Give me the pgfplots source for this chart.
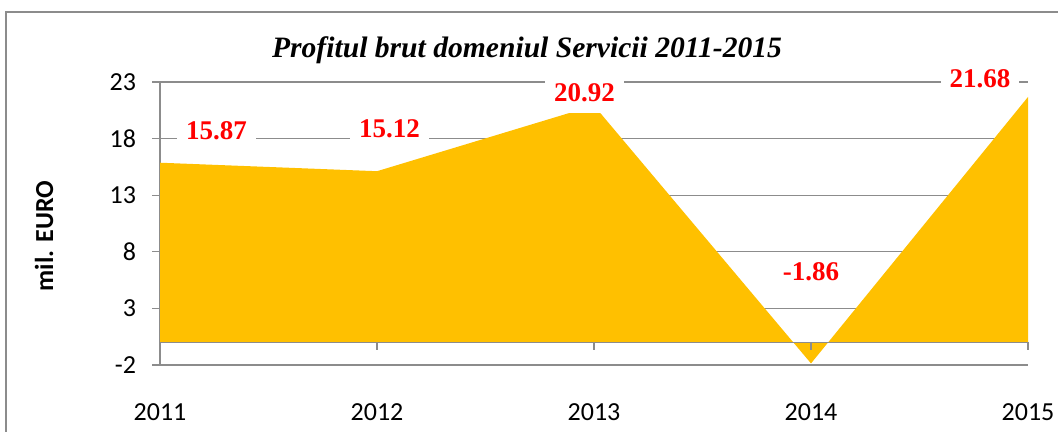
\documentclass[border=0pt]{standalone}
\usepackage{fontspec}
\setmainfont{Carlito}
\newfontfamily\serif{Liberation Serif}
\usepackage{pgfplots}
\pgfplotsset{compat=1.18}
\definecolor{gold}{HTML}{FFC000}
\definecolor{gridg}{HTML}{8C8C8C}
\definecolor{lblred}{HTML}{FF0000}
\begin{document}
\begin{tikzpicture}
\useasboundingbox (0,0) rectangle (529bp,216bp);
\draw[gridg, line width=0.8bp] (3bp,0) -- (3bp,210bp) -- (529bp,210bp);
\begin{axis}[
  at={(80bp,33.5bp)}, anchor=south west,
  scale only axis, width=434bp, height=141.5bp,
  xmin=0, xmax=4, ymin=-2, ymax=23,
  axis y line*=left, axis x line*=bottom,
  x axis line style={draw=none},
  y axis line style={gridg, line width=0.6bp},
  ytick={-2,3,8,13,18,23},
  ymajorgrids, grid style={gridg, line width=0.6bp},
  tick align=outside, major tick length=4bp,
  y tick style={gridg, line width=0.6bp},
  xtick={0,1,2,3,4},
  xticklabels={2011,2012,2013,2014,2015},
  x tick style={draw=none},
  /pgf/number format/assume math mode=true,
  xticklabel style={font=\fontsize{13bp}{15bp}\selectfont, yshift=-12bp},
  yticklabel style={font=\fontsize{13bp}{15bp}\selectfont, xshift=-4.5bp},
  clip=false,
]
\addplot[fill=gold, draw=none] coordinates {
  (0,0) (0,15.87) (1,15.12) (2,20.92) (3,-1.86) (4,21.68) (4,0)
} -- cycle;
\draw[gridg, line width=0.6bp] (axis cs:0,0) -- (axis cs:4,0);
\draw[gridg, line width=0.6bp] (axis cs:1,0) -- (axis cs:1,-0.707);
\draw[gridg, line width=0.6bp] (axis cs:2,0) -- (axis cs:2,-0.707);
\draw[gridg, line width=0.6bp] (axis cs:3,0) -- (axis cs:3,-0.707);
\draw[gridg, line width=0.6bp] (axis cs:4,0) -- (axis cs:4,-0.707);
\tikzset{dl/.style={fill=white, inner xsep=4.5bp, inner ysep=5.5bp, text=lblred,
  font=\serif\bfseries\fontsize{13.5bp}{16bp}\selectfont}}
\node[dl] at (axis cs:0.26,18.67) {15.87};
\node[dl] at (axis cs:1.058,18.89) {15.12};
\node[dl] at (axis cs:1.956,22.07) {20.92};
\node[dl] at (axis cs:3.0,6.22) {-1.86};
\node[dl] at (axis cs:3.779,23.31) {21.68};
\end{axis}
\node[font=\serif\bfseries\itshape\fontsize{14.8bp}{18bp}\selectfont] at (263.5bp,191bp) {Profitul brut domeniul Servicii 2011-2015};
\node[rotate=90, font=\bfseries\fontsize{13bp}{15bp}\selectfont] at (22bp,98bp) {mil. EURO};
\end{tikzpicture}
\end{document}
